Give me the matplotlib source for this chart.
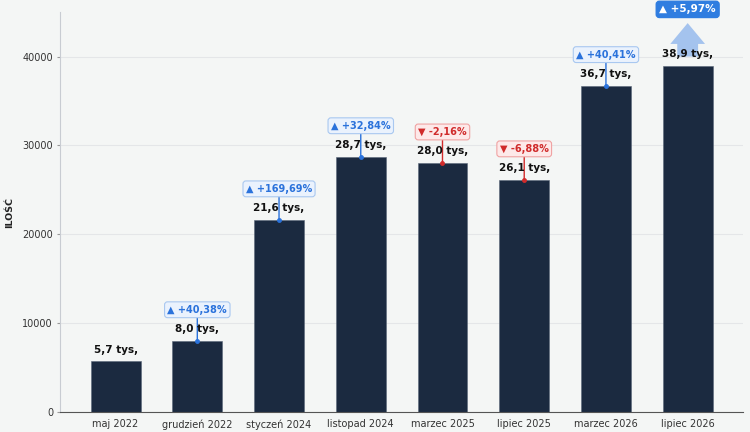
import matplotlib
matplotlib.use('Agg')
import matplotlib.pyplot as plt
from matplotlib.patches import FancyArrowPatch

plt.rcParams['font.family'] = ['DejaVu Sans']

# dane
kategorie = ['maj 2022', 'grudzień 2022', 'styczeń 2024', 'listopad 2024',
             'marzec 2025', 'lipiec 2025', 'marzec 2026', 'lipiec 2026']
wartosci = [5700, 8000, 21600, 28700, 28000, 26100, 36700, 38900]
etykiety = ['5,7 tys,', '8,0 tys,', '21,6 tys,', '28,7 tys,',
            '28,0 tys,', '26,1 tys,', '36,7 tys,', '38,9 tys,']
zmiany = [None, '+40,38%', '+169,69%', '+32,84%', '-2,16%', '-6,88%', '+40,41%', '+5,97%']

tlo = '#f4f6f5'
kolor_slupka = '#1b2a40'

fig = plt.figure(figsize=(7.5, 4.32), dpi=100, facecolor=tlo)
ax = fig.add_axes([0.08, 0.046, 0.911, 0.926], facecolor=tlo)

x = list(range(len(kategorie)))
ax.bar(x, wartosci, width=0.61, color=kolor_slupka, edgecolor='#5a6678', linewidth=0.4, zorder=2)

ax.set_ylim(0, 45000)
ax.set_xlim(-0.68, 7.68)
ax.set_xticks(x)
ax.set_xticklabels(kategorie, fontsize=7, color='#333333')
ax.set_yticks([0, 10000, 20000, 30000, 40000])
ax.tick_params(axis='y', labelsize=7, labelcolor='#333333', length=2.5, pad=2.5, color='#999999')
ax.tick_params(axis='x', length=0, pad=5)
ax.set_ylabel('ILOŚĆ', fontsize=6.8, fontweight='bold', color='#222222')
ax.yaxis.set_label_coords(-0.067, 0.5)
ax.grid(axis='y', color='#e4e6e8', linewidth=0.8, zorder=0)
for s in ['top', 'right']:
    ax.spines[s].set_visible(False)
ax.spines['left'].set_color('#c8ccd2')
ax.spines['bottom'].set_color('#555555')

for i, v in enumerate(wartosci):
    ax.annotate(etykiety[i], xy=(i, v), xytext=(0, 5), textcoords='offset points',
                ha='center', va='bottom', fontsize=7.5, fontweight='bold',
                color='#111111', zorder=5)

px = 45000 / 400.0  # jednostki na piksel

for i, z in enumerate(zmiany):
    if z is None:
        continue
    v = wartosci[i]
    if i == len(zmiany) - 1:
        strz = FancyArrowPatch((i, v + 7 * px), (i, v + 46 * px),
                               arrowstyle='simple,head_length=0.6,head_width=1.0,tail_width=0.6',
                               mutation_scale=25, color='#a4c3ee', lw=0,
                               clip_on=False, zorder=3)
        ax.add_patch(strz)
        ax.annotate('▲ ' + z, xy=(i, v), xytext=(0, 41), textcoords='offset points',
                    ha='center', va='center', fontsize=7.5, fontweight='bold', color='white',
                    bbox=dict(boxstyle='round,pad=0.3', fc='#2f7de0', ec='#2f7de0'),
                    annotation_clip=False, zorder=6)
        continue
    if z.startswith('-'):
        tc, fc, ec, sym = '#d02b2b', '#fde9e9', '#f0a3a3', '▼ '
    else:
        tc, fc, ec, sym = '#2a72db', '#eaf2fd', '#a9c8f0', '▲ '
    ax.annotate(sym + z, xy=(i, v), xytext=(0, 22.5), textcoords='offset points',
                ha='center', va='center', fontsize=7, fontweight='bold', color=tc,
                bbox=dict(boxstyle='round,pad=0.3', fc=fc, ec=ec, lw=0.8),
                arrowprops=dict(arrowstyle='-', color=tc, lw=1.0, shrinkA=0, shrinkB=0),
                annotation_clip=False, zorder=4)
    ax.plot([i], [v], 'o', ms=2.5, color=tc, zorder=4)

fig.savefig('out.png', dpi=100, facecolor=tlo)
